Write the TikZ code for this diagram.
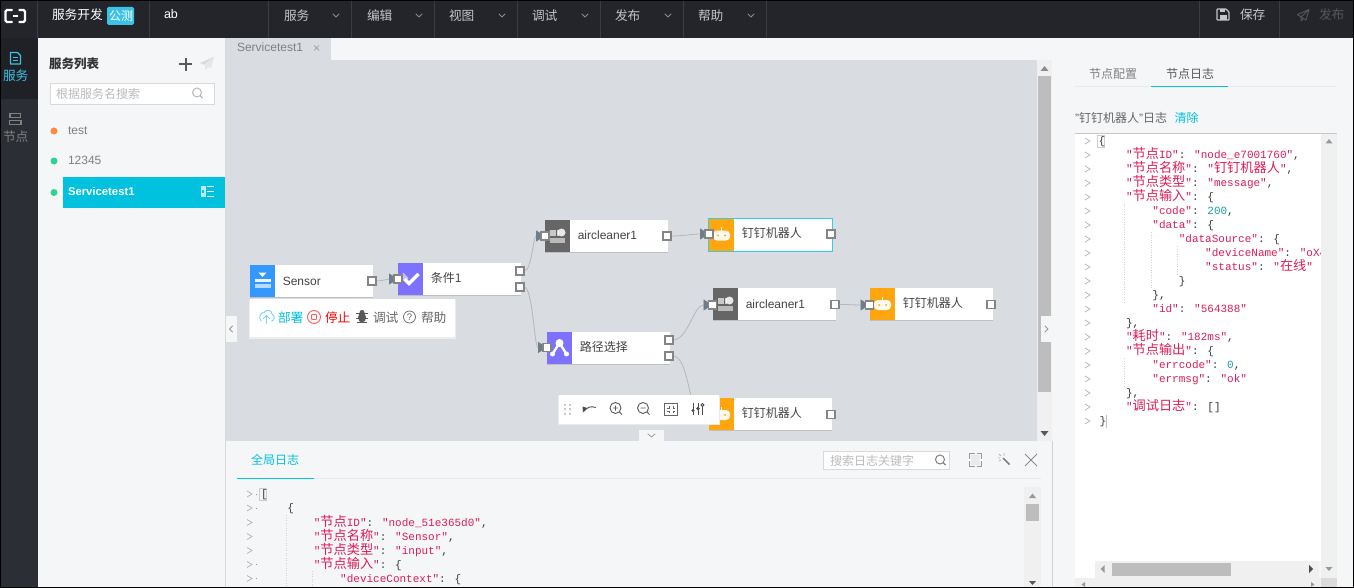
\documentclass[tikz,border=0pt]{standalone}
\usepackage{fontspec}
\setmainfont{Liberation Sans}
\newfontfamily\cjk{Noto Sans CJK SC}
\newfontfamily\codefont{Liberation Mono}
\usetikzlibrary{arrows.meta}
\pgfdeclarelayer{top}
\pgfsetlayers{main,top}
\definecolor{topbar}{HTML}{23252B}
\definecolor{sidebar}{HTML}{2B2E34}
\definecolor{sideact}{HTML}{1F2126}
\definecolor{panel}{HTML}{F5F6F8}
\definecolor{canvas}{HTML}{D9DCE1}
\definecolor{cyanui}{HTML}{00C1DE}
\definecolor{sidecy}{HTML}{3AC3E4}
\definecolor{sepl}{HTML}{3A3C42}
\definecolor{menut}{HTML}{C4C6C9}
\definecolor{menud}{HTML}{8A8C90}
\definecolor{dimt}{HTML}{55575B}
\definecolor{codered}{HTML}{DC1E55}
\definecolor{codeteal}{HTML}{1D9FA3}
\definecolor{codep}{HTML}{3A3A3A}
\definecolor{iconblue}{HTML}{3399FF}
\definecolor{iconpurple}{HTML}{7C72FF}
\definecolor{icongrey}{HTML}{666666}
\definecolor{iconorange}{HTML}{FFA60F}
\definecolor{sbtrack}{HTML}{F0F0F0}
\definecolor{sbthumb}{HTML}{BDBDBD}
\definecolor{portgrey}{HTML}{858585}
\definecolor{arrowgrey}{HTML}{6F7D8A}
\definecolor{conn}{HTML}{B4B7BB}
\definecolor{lightline}{HTML}{E8EAEC}
\definecolor{ph}{HTML}{BBBBBB}
\definecolor{txt}{HTML}{444444}
\definecolor{greyt}{HTML}{808080}
\definecolor{planel}{HTML}{DADADA}
\definecolor{planed}{HTML}{E6E6E6}
\definecolor{dotor}{HTML}{FF8A3D}
\definecolor{dotgr}{HTML}{2DD48F}
\definecolor{stopred}{HTML}{FF5A5A}
\definecolor{foldc}{HTML}{B4B4B4}
\newcount\nn
\newcommand\T[4][]{\global\advance\nn by 1 \node[txtnode,#1] (t\the\nn) at (#2,#3+4.2) {#4};}
\newcommand\Ct[1]{{\cjk\fontsize{13.2}{14}\selectfont #1}}
\newcommand\R[1]{\textcolor{codered}{#1}}
\newcommand\N[1]{\textcolor{codeteal}{#1}}
\newcommand\Line[3]{\global\advance\nn by 1 \node[codeline] (t\the\nn) at (#1,#2+3.8) {#3};}
\tikzset{
 txtnode/.style={anchor=base west,inner sep=0pt,outer sep=0pt,font=\fontsize{12}{14}\selectfont,text=txt},
 cj12/.style={font=\cjk\fontsize{12}{14}\selectfont,yshift=-1.2pt},
 cj13/.style={font=\cjk\fontsize{12.7}{14}\selectfont,yshift=-1.2pt},
 flowcj/.style={font=\cjk\fontsize{12}{14}\selectfont,yshift=.6pt},
 codeline/.style={anchor=base west,inner sep=0pt,outer sep=0pt,font=\codefont\fontsize{11}{14}\selectfont,text=codep},
 portn/.style={draw=portgrey,fill=white,line width=1.2pt,minimum size=8pt,inner sep=0pt,outer sep=0pt,rectangle},
 flowbody/.style={rectangle,fill=white,inner sep=0pt,outer sep=0pt,anchor=north west},
 wire/.style={draw=conn,line width=0.8pt,shorten >=-4pt,-{Triangle[length=9pt,width=11pt,color=arrowgrey]}},
 thinicon/.style={line width=0.9pt,line cap=round,line join=round},
 chev/.style={draw=#1,line width=0.8pt,line cap=round,line join=round},
 foldm/.style={draw=foldc,line width=0.7pt},
 guide/.style={draw=black!18,line width=0.5pt,dotted},
}
\newcommand\Flow[8]{%
  \fill[black!25] (#2,#3+1) rectangle ++(#4,32);
  \node[flowbody,minimum width=#4 pt,minimum height=32pt] (#1) at (#2,#3) {};
  \fill[#5] (#2,#3) rectangle ++(25,32);
  \begin{scope}[shift={(#2+12.5,#3+16)}] #6 \end{scope}
  \T[#7]{#2+32.8}{#3+15.8}{#8}
}
\newcommand\IcSensor{\fill[white,opacity=.9] (-8,-2.5) rectangle (8,1); \fill[white,opacity=.65] (-8,3) rectangle (8,7);\fill[white] (-4,-8.5)--(4,-8.5)--(0,-4)--cycle;}
\newcommand\IcCheck{\fill[white,opacity=.55] (-11,-3)--(-7,-6)--(-2,-1)--(-5,3)--cycle;\draw[white,line width=3.4pt] (-6,0)--(-1.5,4.5)--(8,-5);}
\newcommand\IcAir{\fill[white,opacity=.65] (-8,-6) rectangle (-2,0);\fill[white,opacity=.7] (-1,-6) rectangle (1,0);\fill[white,opacity=.85] (4,-3.5) circle[radius=4];\fill[white,opacity=.55] (-8,2) rectangle (7.5,6.5);}
\newcommand\IcRoute{\draw[white,line width=2.4pt] (-7,6)--(0,-5)--(7,6);\fill[white] (0,-5) circle[radius=4];\fill[white] (-7,6) circle[radius=2.5];\fill[white] (7,6) circle[radius=2.5];}
\newcommand\IcBot{\fill[white,opacity=.92,rounded corners=4pt] (-8.5,-4) rectangle (8.5,6);\fill[iconorange] (-3.5,1) circle[radius=1];\fill[iconorange] (3.5,1) circle[radius=1];\draw[white,line width=1pt] (0,-4)--(0,-7.5);}
\newcommand\Mag[3]{\draw[#3,line width=1pt] (#1,#2) circle[radius=4.5]; \draw[#3,line width=1.2pt] (#1+3.2,#2+3.2)--(#1+5.5,#2+5.5);}
\newcommand\Plane[4]{\fill[#3] (#1+7,#2-7)--(#1-7,#2-1)--(#1-3,#2+1)--cycle;\fill[#4] (#1+7,#2-7)--(#1-2,#2+1.5)--(#1-2,#2+6)--(#1+1,#2+3)--(#1+4,#2+4)--cycle;}
\begin{document}
\begin{tikzpicture}[x=1pt,y=-1pt]
\useasboundingbox (0,0) rectangle (1354,588);
% base
\fill[panel] (0,0) rectangle (1354,588);
\fill[topbar] (0,0) rectangle (1354,38);
\fill[sidebar] (0,38) rectangle (38,588);
\fill[sideact] (0,38) rectangle (38,99);
% top bar
\foreach \x in {37.5,149.5,268.5,351.5,434.5,517.5,600.5,683.5,766.5,1199.5,1279.5}
  \draw[sepl,line width=0.8pt] (\x,1)--(\x,38);
\draw[white,line width=2.3pt,rounded corners=1.5pt] (12.5,10)--(5.5,10)--(5.5,22)--(12.5,22);
\draw[white,line width=2.3pt,rounded corners=1.5pt] (18.5,10)--(25,10)--(25,22)--(18.5,22);
\draw[white,line width=1.2pt] (13,16)--(18,16);
\T[cj13,text=white]{52}{14.5}{服务开发}
\fill[sidecy,rounded corners=1.5pt] (107,7) rectangle (134,25);
\T[cj12,text=white]{109}{15.5}{公测}
\T[text=white,font=\fontsize{12.5}{14}\selectfont]{164}{14.5}{ab}
\foreach \tx/\s in {284/服务,367/编辑,449/视图,532/调试,615/发布,698/帮助}{
  \T[cj13,text=menut]{\tx}{15}{\s}
}
\foreach \x in {336,419,502,585,668,751}
  \draw[chev=menud] (\x-3,14)--(\x,17)--(\x+3,14);
% save
\draw[menut,line width=1.2pt,rounded corners=.6pt] (1217,9)--(1226,9)--(1229,12)--(1229,20)--(1217,20)--cycle;
\fill[menut] (1219.5,9) rectangle (1225,12.5);
\fill[menut] (1219.5,15) rectangle (1226.5,20);
\T[cj13,text=menut]{1240}{14.5}{保存}
\draw[dimt,line width=0.9pt,line join=round] (1309,9.5)--(1297.5,14.5)--(1301,17)--(1309,9.5)--(1306,20)--(1301,17)--(1301,21)--(1303.5,18.5);
\T[cj13,text=dimt]{1319}{14.5}{发布}
% sidebar
\draw[sidecy,line width=1.2pt,line join=round] (10.5,52.5)--(17.5,52.5)--(20.5,55.5)--(20.5,64)--(10.5,64)--cycle;
\draw[sidecy,line width=1pt] (13,57.5)--(18,57.5) (13,60.5)--(18,60.5);
\T[cj13,text=sidecy]{3}{75.5}{服务}
\draw[greyt,line width=1.3pt] (10,113.5) rectangle (20.5,117.5);
\draw[greyt,line width=1.3pt] (9.5,120.5) rectangle (21,124.5);
\T[cj13,text=greyt]{3}{136.5}{节点}
% service list
\T[text=black!80,font=\cjk\bfseries\fontsize{12.5}{14}\selectfont,yshift=-1.2pt]{49}{63}{服务列表}
\draw[black!65,line width=2pt] (179,64.5)--(192,64.5) (185.5,58)--(185.5,71);
\Plane{207}{64}{planel}{planed}
\node[draw=black!15,fill=white,line width=1pt,minimum width=164pt,minimum height=21pt,inner sep=0pt,anchor=north west] (searchA) at (49.5,83.5) {};
\T[cj12,text=ph]{56}{93.5}{根据服务名搜索}
\Mag{197}{92.5}{black!28}
\fill[dotor] (54,131) circle[radius=3.5];
\T[text=greyt]{68}{130.5}{test}
\fill[dotgr] (54,161) circle[radius=3.5];
\T[text=greyt]{68}{160.5}{12345}
\fill[dotgr] (54,192.5) circle[radius=3.5];
\fill[cyanui] (63,177) rectangle (225,208);
\T[text=white,font=\bfseries\fontsize{11.3}{14}\selectfont]{68}{191.5}{Servicetest1}
\fill[white,opacity=.75] (200.5,186.5) rectangle (205.5,197.5);
\draw[white,line width=1pt] (207,187)--(214,187) (207,192)--(214,192) (207,197)--(214,197);
\fill[cyanui] (201.8,190) rectangle (204.3,193.5);
% editor
\fill[black!15] (225,38) rectangle (226,588);
\fill[canvas] (226,38) rectangle (331,60);
\T[text=greyt]{237}{47.5}{Servicetest1}
\draw[black!40,line width=.7pt] (314,45.5)--(319,50.5) (319,45.5)--(314,50.5);
\fill[canvas] (226,60) rectangle (1037,441);
% canvas scrollbar
\fill[sbtrack] (1037,60) rectangle (1052,441);
\fill[sbthumb] (1038,76) rectangle (1051,392);
\fill[black!45] (1044.5,66)--(1040.5,71)--(1048.5,71)--cycle;
\fill[black!65] (1040.5,431)--(1048.5,431)--(1044.5,436)--cycle;
% flow nodes
\Flow{sensor}{250}{265}{123}{iconblue}{\IcSensor}{}{Sensor}
\Flow{cond}{398}{263}{123}{iconpurple}{\IcCheck}{flowcj}{条件1}
\Flow{air}{545}{220}{123}{icongrey}{\IcAir}{}{aircleaner1}
\Flow{bot}{709}{218.5}{123.5}{iconorange}{\IcBot}{flowcj}{钉钉机器人}
\draw[cyanui!80!white,line width=1pt] (708.5,218) rectangle (832.7,251);
\Flow{route}{547}{332}{123}{iconpurple}{\IcRoute}{flowcj}{路径选择}
\Flow{airb}{713}{288}{123}{icongrey}{\IcAir}{}{aircleaner1}
\Flow{botb}{870}{288}{123}{iconorange}{\IcBot}{flowcj}{钉钉机器人}
\Flow{botc}{709}{398}{123}{iconorange}{\IcBot}{flowcj}{钉钉机器人}
\begin{pgfonlayer}{top}
% ports
\node[portn] (sensorOut) at (372,281) {};
\node[portn] (condIn) at (398,279) {};
\node[portn] (condOutA) at (520,271) {};
\node[portn] (condOutB) at (520,287) {};
\node[portn] (airIn) at (545,236) {};
\node[portn] (airOut) at (667,236) {};
\node[portn] (botIn) at (709,234) {};
\node[portn] (botOut) at (831,234) {};
\node[portn] (routeIn) at (547,347.5) {};
\node[portn] (routeOutA) at (669,340) {};
\node[portn] (routeOutB) at (669,356) {};
\node[portn] (airbIn) at (712.5,305) {};
\node[portn] (airbOut) at (835,304.5) {};
\node[portn] (botbIn) at (869.5,305) {};
\node[portn] (botbOut) at (991,304.5) {};
\node[portn] (botcIn) at (709,414) {};
\node[portn] (botcOut) at (831,414.5) {};
% floating toolbar
\fill[black!8] (558,396) rectangle (720,425);
\node[flowbody,minimum width=160pt,minimum height=29pt] (toolBar) at (559,395) {};
\foreach \x in {565,569.5} \foreach \y in {404.5,409,413.5}
  \fill[black!22] (\x-1,\y-1) rectangle (\x+1,\y+1);
\draw[black!70,thinicon] (595.5,407.5) .. controls (592,406) and (588,406.5) .. (584,411);
\fill[black!70] (582.5,406.5)--(587,408)--(583,412.5)--cycle;
\draw[black!65,line width=.9pt] (615.5,408) circle[radius=5.5];
\draw[black!65,line width=.9pt] (613,408)--(618,408) (615.5,405.5)--(615.5,410.5) (619.5,412)--(622,414.5);
\draw[black!65,line width=.9pt] (643,408) circle[radius=5.5];
\draw[black!65,line width=.9pt] (640.5,408)--(645.5,408) (647,412)--(649.5,414.5);
\draw[black!60,line width=.9pt] (664.5,403) rectangle (677,415.5);
\draw[black!60,line width=.7pt] (667,408)--(669,408)--(669,406) (675,408)--(673,408)--(673,406) (667,411)--(669,411)--(669,413) (675,411)--(673,411)--(673,413);
\draw[black!70,line width=1pt] (693,403)--(693,415) (698,403)--(698,415) (702.5,403)--(702.5,415);
\fill[black!70] (693,410.5) circle[radius=1.6] (698,408.5) circle[radius=1.9];
\draw[black!70,fill=white,line width=.8pt] (702.5,405) circle[radius=1.5];
\end{pgfonlayer}
% connectors
\draw[wire] (sensorOut.east) .. controls +(5,0) and +(-5,0) .. (condIn.west);
\draw[wire] (condOutA.east) .. controls +(8,0) and +(-8,0) .. (airIn.west);
\draw[wire] (condOutB.east) .. controls +(9,0) and +(-9,0) .. (routeIn.west);
\draw[wire] (airOut.east) .. controls +(12,0) and +(-12,0) .. (botIn.west);
\draw[wire] (routeOutA.east) .. controls +(15,0) and +(-15,0) .. (airbIn.west);
\draw[wire] (routeOutB.east) .. controls +(16,0) and +(-16,0) .. (botcIn.west);
\draw[wire] (airbOut.east) .. controls +(12,0) and +(-12,0) .. (botbIn.west);
% sensor toolbar
\fill[black!7] (249,300) rectangle (456,339);
\node[flowbody,minimum width=205pt,minimum height=38pt] (sensorBar) at (250,299) {};
\draw[sidecy!70!white,thinicon] (261,321) .. controls (258,317) and (261,312.5) .. (264,312.5) .. controls (266,309) and (272,310) .. (272,314) .. controls (275,315) and (275,321) .. (271.5,321);
\draw[sidecy!70!white,thinicon] (266.5,323.5)--(266.5,315.5) (263.5,318.5)--(266.5,315.5)--(269.5,318.5);
\T[cj13,text=cyanui]{278}{317}{部署}
\draw[stopred,line width=.9pt] (314,317) circle[radius=6.5];
\draw[stopred,line width=.9pt,rounded corners=.8pt] (311.5,314.5) rectangle (316.5,319.5);
\T[cj13,text=red]{325}{317}{停止}
\fill[black!65] (362,317.5) ellipse[x radius=4,y radius=5];
\fill[black!65] (362,312.5) circle[radius=2.5];
\draw[black!65,line width=.8pt] (356,313.5)--(368,313.5) (356,318)--(368,318) (357,322)--(367,322);
\T[cj13,text=black!60]{373}{317}{调试}
\draw[black!55,line width=.8pt] (409.5,317) circle[radius=6];
\node[inner sep=0pt,font=\fontsize{9.5}{10}\selectfont,text=black!60] (helpq) at (409.5,317) {?};
\T[cj13,text=black!60]{421}{317}{帮助}
% handles
\fill[panel] (226,316) rectangle (237,342);
\draw[chev=black!40] (232.5,326)--(229.5,329)--(232.5,332);
\fill[panel] (1041,316) rectangle (1052,342);
\draw[chev=black!40] (1045,326)--(1048,329)--(1045,332);
\fill[panel] (639,430) rectangle (664,441);
\draw[chev=black!40] (648,434)--(651.5,437)--(655,434);
% bottom log panel
\fill[panel] (226,441) rectangle (1052,588);
\draw[black!18,line width=1pt] (1052.5,441)--(1052.5,588);
\T[cj12,text=cyanui]{251}{459.5}{全局日志}
\draw[lightline,line width=1pt] (237,478.5)--(1041,478.5);
\draw[cyanui,line width=1.3pt] (237,478.3)--(314,478.3);
\node[draw=black!15,fill=white,line width=.8pt,minimum width=126pt,minimum height=18pt,inner sep=0pt,anchor=north west] (searchB) at (823,451) {};
\T[cj12,text=ph]{830}{460}{搜索日志关键字}
\Mag{940}{459.5}{black!50}
\draw[black!40,line width=1pt] (969.5,453.5) rectangle (981.5,466);
\draw[white,line width=2pt] (975.5,452)--(975.5,467) (968,459.7)--(983,459.7);
\fill[lightline] (971,455) rectangle (980,464.5);
\draw[black!50,line width=1.6pt] (1003,458)--(1009.5,464.5);
\draw[black!30,line width=.8pt] (999,454)--(1001,456) (1004,453)--(1004,456) (998,458)--(1000,458) (999,461)--(1001,460);
\draw[black!45,line width=.9pt] (1025,454)--(1037,466) (1037,454)--(1025,466);
% bottom code
\begin{scope}
\clip (226,486) rectangle (1024,587);
\foreach \y in {494,508,522.5,536.5,550.5,564.5,578.5}
  \draw[foldm] (247,\y-3)--(252,\y)--(247,\y+3);
\foreach \y in {494,508,564.5,578.5}
  \fill[black!40] (256,\y-.5) rectangle (257,\y+.5);
\draw[guide] (286.5,515)--(286.5,588) (312.5,571)--(312.5,588);
\draw[black!20,line width=.5pt] (259.5,488) rectangle (266,500);
\Line{261}{494}{[}
\Line{287.4}{508}{\{}
\Line{313.8}{522.5}{\R{"\Ct{节点}ID"}: \R{"node\_51e365d0"},}
\Line{313.8}{536.5}{\R{"\Ct{节点名称}"}: \R{"Sensor"},}
\Line{313.8}{550.5}{\R{"\Ct{节点类型}"}: \R{"input"},}
\Line{313.8}{564.5}{\R{"\Ct{节点输入}"}: \{}
\Line{340.2}{578.5}{\R{"deviceContext"}: \{}
\end{scope}
\fill[sbtrack] (1024,487) rectangle (1041,588);
\fill[sbthumb] (1026,504) rectangle (1039,521);
\fill[black!40] (1032.5,493.5)--(1029,498)--(1036,498)--cycle;
\fill[black!65] (1029,581)--(1036,581)--(1032.5,585)--cycle;
% right panel
\T[cj12,text=greyt]{1089}{73}{节点配置}
\T[cj12,text=black!65]{1166}{73}{节点日志}
\draw[lightline,line width=1pt] (1075,86.5)--(1336,86.5);
\draw[cyanui,line width=1.3pt] (1151,86.3)--(1228,86.3);
\T[text=black!60,yshift=-1.2pt]{1075}{117.5}{"{\cjk 钉钉机器人}"{\cjk 日志}}
\T[cj12,text=cyanui]{1174.5}{117.5}{清除}
\fill[white] (1075,134) rectangle (1321,561);
\draw[black!22,line width=1pt] (1075,133.5)--(1337,133.5);
\fill[white] (1075,561) rectangle (1095,578);
\foreach \k in {0,...,20}
  \draw[foldm] (1085,141+14*\k-3)--(1090,141+14*\k)--(1085,141+14*\k+3);
\draw[guide] (1124.5,204)--(1124.5,303) (1151,232)--(1151,288) (1177.5,246)--(1177.5,274) (1124.5,358)--(1124.5,386);
\begin{scope}
\clip (1095,134) rectangle (1320,561);
\draw[black!20,line width=.5pt] (1097.5,135) rectangle (1104,147);
\Line{1098.6}{141}{\{}
\Line{1126}{155}{\R{"\Ct{节点}ID"}: \R{"node\_e7001760"},}
\Line{1126}{169}{\R{"\Ct{节点名称}"}: \R{"\Ct{钉钉机器人}"},}
\Line{1126}{183}{\R{"\Ct{节点类型}"}: \R{"message"},}
\Line{1126}{197}{\R{"\Ct{节点输入}"}: \{}
\Line{1152.4}{211}{\R{"code"}: \N{200},}
\Line{1152.4}{225}{\R{"data"}: \{}
\Line{1178.8}{239}{\R{"dataSource"}: \{}
\Line{1205.2}{253}{\R{"deviceName"}: \R{"oX4}}
\Line{1205.2}{267}{\R{"status"}: \R{"\Ct{在线}"}}
\Line{1178.8}{281}{\}}
\Line{1152.4}{295}{\},}
\Line{1152.4}{309}{\R{"id"}: \R{"564388"}}
\Line{1126}{323}{\},}
\Line{1126}{337}{\R{"\Ct{耗时}"}: \R{"182ms"},}
\Line{1126}{351}{\R{"\Ct{节点输出}"}: \{}
\Line{1152.4}{365}{\R{"errcode"}: \N{0},}
\Line{1152.4}{379}{\R{"errmsg"}: \R{"ok"}}
\Line{1126}{393}{\},}
\Line{1126}{407}{\R{"\Ct{调试日志}"}: []}
\Line{1099.5}{421}{\}}
\fill[black!25] (1105.5,414.5) rectangle (1106.5,427.5);
\end{scope}
\fill[sbtrack] (1321,134) rectangle (1337,578);
\fill[black!40] (1329,139)--(1325.5,143.5)--(1332.5,143.5)--cycle;
\fill[black!40] (1325.5,567)--(1332.5,567)--(1329,571)--cycle;
\fill[sbtrack] (1095,561) rectangle (1319,578);
\fill[sbthumb] (1112,563) rectangle (1231,576);
\fill[black!40] (1104.5,565)--(1104.5,573)--(1100.5,569)--cycle;
\fill[black!70] (1309,565)--(1309,573)--(1313,569)--cycle;
\fill[sbtrack] (1075,578) rectangle (1321,588);
\fill[black!14] (1321,578) rectangle (1337,588);
\fill[black!40] (1085,582)--(1085,587)--(1081.5,584.5)--cycle;
\fill[black!40] (1311,582)--(1311,587)--(1314.5,584.5)--cycle;
% frame
\draw[black,line width=1pt] (.5,.5) rectangle (1353.5,587.5);
\end{tikzpicture}
\end{document}
